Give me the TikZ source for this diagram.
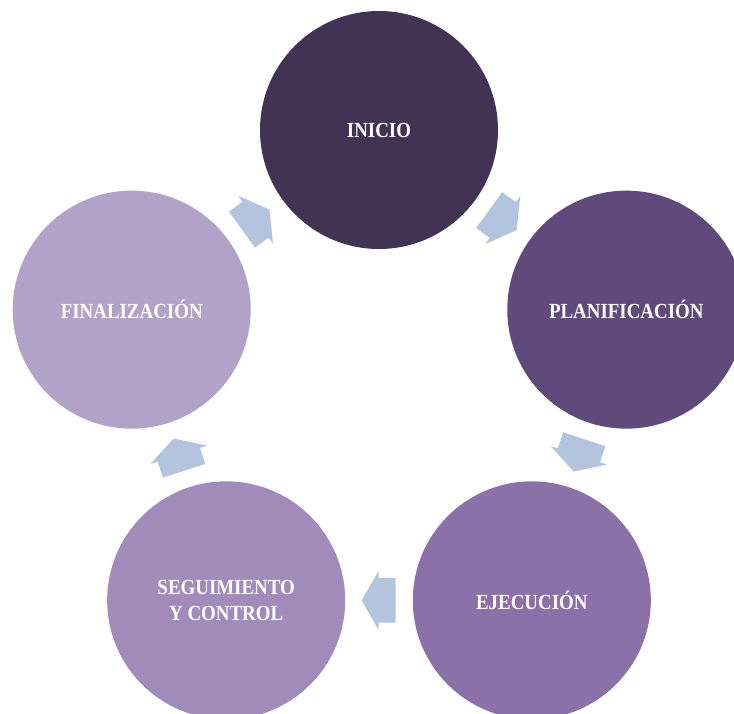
\documentclass[tikz,border=0pt]{standalone}
\usepackage{fontspec}
\setmainfont{Liberation Serif}
\newfontfamily\phasefont[FakeStretch=0.88]{Liberation Serif}
\usetikzlibrary{shapes.arrows, calc}
\definecolor{inicioc}{HTML}{423254}
\definecolor{planc}{HTML}{604A7B}
\definecolor{ejecc}{HTML}{8B71A8}
\definecolor{seguic}{HTML}{A08BBA}
\definecolor{finc}{HTML}{B3A2C7}
\definecolor{arrowc}{HTML}{B2C4DE}

\begin{document}
\begin{tikzpicture}[
    x=1pt, y=1pt,
    phase/.style={circle, minimum size=238pt, inner sep=0pt, align=center, text=white, font=\phasefont\bfseries\fontsize{21.5}{26}\selectfont},
    cyclearrow/.style={single arrow, fill=arrowc, draw=none, inner xsep=0pt, inner ysep=22pt, minimum height=34pt, single arrow head extend=7.5pt, single arrow tip angle=120, rotate=#1, xshift=-6pt}
]
    \useasboundingbox (0,0) rectangle (734,713);
    \coordinate (c) at (379,323);

    % Phases
    \node[phase, fill=inicioc] (inicio) at ($(c)+(90:260)$)   {INICIO};
    \node[phase, fill=planc]   (plan)   at ($(c)+(18:260)$)   {PLANIFICACIÓN};
    \node[phase, fill=ejecc]   (ejec)   at ($(c)+(-54:260)$)  {EJECUCIÓN};
    \node[phase, fill=seguic]  (segui)  at ($(c)+(-126:260)$) {SEGUIMIENTO\\Y CONTROL};
    \node[phase, fill=finc]    (fin)    at ($(c)+(162:260)$)  {FINALIZACIÓN};

    % Arrows
    \node[cyclearrow=-36]  (a1) at ($(inicio)!0.5!(plan)$) {};
    \node[cyclearrow=-108] (a2) at ($(plan)!0.5!(ejec)$)   {};
    \node[cyclearrow=180]  (a3) at ($(ejec)!0.5!(segui)$)  {};
    \node[cyclearrow=108]  (a4) at ($(segui)!0.5!(fin)$)   {};
    \node[cyclearrow=36]   (a5) at ($(fin)!0.5!(inicio)$)  {};

\end{tikzpicture}
\end{document}
